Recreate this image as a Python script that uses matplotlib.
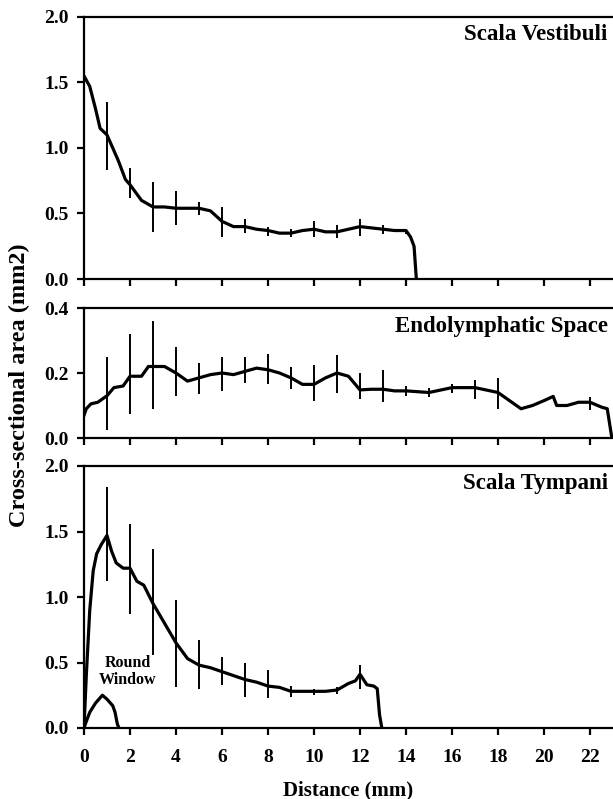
import matplotlib
matplotlib.use("Agg")
import matplotlib.pyplot as plt

plt.rcParams['font.family'] = ['Liberation Serif', 'DejaVu Serif']
plt.rcParams['font.weight'] = 'bold'

# ---------------- data ----------------
# Scala Vestibuli
sv_x = [0.0, 0.25, 0.5, 0.7, 1.0, 1.5, 1.8, 2.0, 2.5, 3.0, 3.5, 4.0, 4.5, 5.0, 5.5, 6.0,
        6.5, 7.0, 7.5, 8.0, 8.5, 9.0, 9.5, 10.0, 10.5, 11.0, 11.5, 12.0, 12.5, 13.0,
        13.5, 14.0, 14.2, 14.35, 14.45]
sv_y = [1.55, 1.47, 1.30, 1.15, 1.10, 0.90, 0.76, 0.72, 0.60, 0.55, 0.55, 0.54, 0.54, 0.54,
        0.52, 0.44, 0.40, 0.40, 0.38, 0.37, 0.35, 0.35, 0.37, 0.38, 0.36, 0.36, 0.38,
        0.40, 0.39, 0.38, 0.37, 0.37, 0.32, 0.25, 0.0]
sv_ex = [1, 2, 3, 4, 5, 6, 7, 8, 9, 10, 11, 12, 13, 14]
sv_lo = [0.83, 0.62, 0.36, 0.41, 0.49, 0.32, 0.35, 0.33, 0.32, 0.32, 0.31, 0.33, 0.34, 0.34]
sv_hi = [1.35, 0.85, 0.74, 0.67, 0.59, 0.55, 0.46, 0.40, 0.38, 0.44, 0.41, 0.46, 0.41, 0.38]

# Endolymphatic Space
es_x = [0.0, 0.1, 0.3, 0.6, 1.0, 1.3, 1.7, 2.0, 2.5, 2.8, 3.0, 3.5, 4.0, 4.5, 5.0, 5.5,
        6.0, 6.5, 7.0, 7.5, 8.0, 8.5, 9.0, 9.5, 10.0, 10.5, 11.0, 11.5, 12.0, 12.5,
        13.0, 13.5, 14.0, 15.0, 16.0, 17.0, 18.0, 18.5, 19.0, 19.5, 20.0, 20.4,
        20.55, 21.0, 21.5, 22.0, 22.5, 22.75, 22.95]
es_y = [0.07, 0.09, 0.105, 0.11, 0.13, 0.155, 0.16, 0.19, 0.19, 0.22, 0.22, 0.22, 0.20,
        0.175, 0.185, 0.195, 0.20, 0.195, 0.205, 0.215, 0.21, 0.20, 0.185, 0.165, 0.165,
        0.185, 0.20, 0.19, 0.148, 0.15, 0.15, 0.145, 0.145, 0.14, 0.155, 0.155, 0.14,
        0.115, 0.09, 0.10, 0.115, 0.128, 0.10, 0.10, 0.11, 0.11, 0.095, 0.09, 0.0]
es_ex = [1, 2, 3, 4, 5, 6, 7, 8, 9, 10, 11, 12, 13, 14, 15, 16, 17, 18, 22]
es_lo = [0.025, 0.075, 0.09, 0.13, 0.135, 0.145, 0.17, 0.165, 0.15, 0.115, 0.14, 0.12,
         0.11, 0.13, 0.125, 0.14, 0.12, 0.09, 0.085]
es_hi = [0.25, 0.32, 0.36, 0.28, 0.23, 0.25, 0.25, 0.26, 0.22, 0.225, 0.255, 0.20, 0.21,
         0.16, 0.155, 0.165, 0.18, 0.185, 0.125]

# Scala Tympani
st_x = [0.0, 0.1, 0.25, 0.4, 0.55, 0.75, 1.0, 1.2, 1.4, 1.7, 2.0, 2.3, 2.6, 3.0, 3.5,
        4.0, 4.5, 5.0, 5.5, 6.0, 6.5, 7.0, 7.5, 8.0, 8.5, 9.0, 9.5, 10.0, 10.5, 11.0,
        11.5, 11.8, 12.0, 12.3, 12.6, 12.75, 12.85, 12.95]
st_y = [0.0, 0.4, 0.9, 1.2, 1.33, 1.40, 1.47, 1.35, 1.26, 1.22, 1.22, 1.12, 1.09, 0.95,
        0.80, 0.65, 0.53, 0.48, 0.46, 0.43, 0.40, 0.37, 0.35, 0.32, 0.31, 0.28, 0.28,
        0.28, 0.28, 0.29, 0.34, 0.36, 0.41, 0.33, 0.32, 0.30, 0.10, 0.0]
st_ex = [1, 2, 3, 4, 5, 6, 7, 8, 9, 10, 11, 12]
st_lo = [1.12, 0.87, 0.56, 0.31, 0.30, 0.33, 0.24, 0.23, 0.24, 0.25, 0.26, 0.30]
st_hi = [1.84, 1.56, 1.37, 0.98, 0.67, 0.54, 0.50, 0.44, 0.32, 0.30, 0.31, 0.48]

# Round window
rw_x = [0.0, 0.1, 0.25, 0.5, 0.8, 1.0, 1.25, 1.35, 1.45, 1.52]
rw_y = [0.0, 0.05, 0.12, 0.19, 0.25, 0.22, 0.17, 0.12, 0.03, 0.0]

titles = ["Scala Vestibuli", "Endolymphatic Space", "Scala Tympani"]
xticks = list(range(0, 23, 2))

# ---------------- figure ----------------
W, H = 613, 799
fig = plt.figure(figsize=(W / 100, H / 100), dpi=100)

def ax_rect(top_px, bot_px, left_px=84, right_px=613):
    return [left_px / W, 1 - bot_px / H, (right_px - left_px) / W, (bot_px - top_px) / H]

ax1 = fig.add_axes(ax_rect(17, 279))
ax2 = fig.add_axes(ax_rect(308, 438))
ax3 = fig.add_axes(ax_rect(466, 728))

panels = [
    (ax1, sv_x, sv_y, sv_ex, sv_lo, sv_hi, 2.0, [0.0, 0.5, 1.0, 1.5, 2.0]),
    (ax2, es_x, es_y, es_ex, es_lo, es_hi, 0.4, [0.0, 0.2, 0.4]),
    (ax3, st_x, st_y, st_ex, st_lo, st_hi, 2.0, [0.0, 0.5, 1.0, 1.5, 2.0]),
]

for i, (ax, x, y, ex, lo, hi, ymax, yt) in enumerate(panels):
    ax.plot(x, y, color='black', lw=2.3, solid_joinstyle='round')
    ax.vlines(ex, lo, hi, color='black', lw=1.4)
    ax.set_xlim(0, 23)
    ax.set_ylim(0, ymax)
    ax.set_yticks(yt)
    ax.set_yticklabels([f"{v:.1f}" for v in yt])
    ax.set_xticks(xticks)
    ax.spines['right'].set_visible(False)
    for s in ['left', 'bottom', 'top']:
        ax.spines[s].set_linewidth(1.6)
    ax.tick_params(direction='out', length=5, width=1.6, labelsize=14)
    ax.tick_params(axis='y', pad=6)
    if ax is not ax3:
        ax.tick_params(axis='x', labelbottom=False)
    ax.text(0.99, 0.935 if ymax == 2.0 else 0.86, titles[i], transform=ax.transAxes,
            ha='right', va='center', fontsize=16.5, fontweight='bold')
    for lab in ax.get_xticklabels() + ax.get_yticklabels():
        lab.set_fontweight('bold')

ax3.plot(rw_x, rw_y, color='black', lw=2.3)
ax3.text(1.9, 0.43, "Round\nWindow", ha='center', va='center', fontsize=11.5,
         fontweight='bold', linespacing=1.05)
ax3.tick_params(axis='x', pad=10)

fig.text(0.5 * (84 + 613) / W, 1 - 790 / H, "Distance (mm)", ha='center', va='center',
         fontsize=15, fontweight='bold')
fig.text(19 / W, 1 - 385 / H, "Cross-sectional area (mm2)", ha='center', va='center',
         rotation=90, fontsize=17.5, fontweight='bold')

fig.savefig("out.png", dpi=100)
